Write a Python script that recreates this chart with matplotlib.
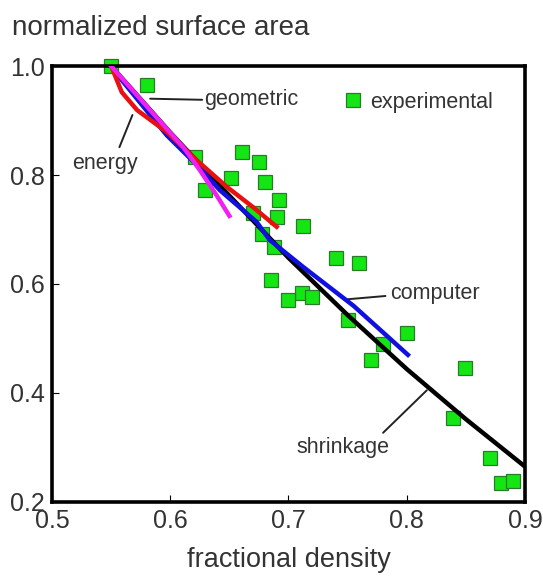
import matplotlib.pyplot as plt

plt.rcParams["font.family"] = ["Liberation Sans", "DejaVu Sans"]

# experimental points (fractional density, normalized surface area)
exp_density = [0.550, 0.580, 0.621, 0.661, 0.675, 0.651, 0.629, 0.680, 0.692,
               0.670, 0.690, 0.712, 0.678, 0.688, 0.740, 0.760, 0.685, 0.711,
               0.700, 0.720, 0.750, 0.800, 0.780, 0.770, 0.849, 0.839, 0.870,
               0.880, 0.890]
exp_area = [1.000, 0.965, 0.833, 0.842, 0.824, 0.794, 0.772, 0.787, 0.754,
            0.730, 0.723, 0.706, 0.692, 0.668, 0.648, 0.639, 0.607, 0.583,
            0.571, 0.576, 0.534, 0.510, 0.490, 0.461, 0.446, 0.354, 0.281,
            0.235, 0.239]

# model curves
shrinkage_density = [0.55, 0.60, 0.65, 0.70, 0.75, 0.80, 0.85, 0.90]
shrinkage_area = [1.0, 0.878, 0.762, 0.648, 0.543, 0.444, 0.352, 0.265]

computer_density = [0.553, 0.597, 0.625, 0.642, 0.673, 0.684, 0.712, 0.755, 0.801]
computer_area = [0.99, 0.873, 0.813, 0.772, 0.714, 0.681, 0.632, 0.560, 0.470]

energy_density = [0.55, 0.559, 0.572, 0.597, 0.625, 0.648, 0.670, 0.690]
energy_area = [1.0, 0.952, 0.919, 0.879, 0.822, 0.778, 0.741, 0.705]

geometric_density = [0.55, 0.583, 0.611, 0.625, 0.640, 0.650]
geometric_area = [1.0, 0.919, 0.851, 0.809, 0.760, 0.725]

x_ticks = [0.5, 0.6, 0.7, 0.8, 0.9]
y_ticks = [0.2, 0.4, 0.6, 0.8, 1.0]

fig = plt.figure(figsize=(5.43, 5.79), dpi=100)
ax = fig.add_axes([0.0958, 0.133, 0.871, 0.753])

ax.plot(exp_density, exp_area, linestyle="none", marker="s", markersize=9.5,
        markerfacecolor="#14e614", markeredgecolor="#2b7a2b",
        markeredgewidth=0.9, label="experimental", zorder=2, clip_on=False)
ax.plot(shrinkage_density, shrinkage_area, color="black", linewidth=3.2, zorder=3)
ax.plot(computer_density, computer_area, color="#1010e0", linewidth=3.2, zorder=4)
ax.plot(energy_density, energy_area, color="#e81010", linewidth=3.2, zorder=5)
ax.plot(geometric_density, geometric_area, color="#f020f0", linewidth=3.2, zorder=6)

# curve labels with leader lines
lbl = dict(fontsize=15.5, color="#333333", va="center")
line = dict(arrowstyle="-", color="#222222", lw=1.4, shrinkA=0, shrinkB=0)
ax.text(0.629, 0.939, "geometric", ha="left", **lbl)
ax.annotate("", xy=(0.583, 0.940), xytext=(0.627, 0.938), arrowprops=line)
ax.text(0.545, 0.822, "energy", ha="center", **lbl)
ax.annotate("", xy=(0.568, 0.910), xytext=(0.557, 0.851), arrowprops=line)
ax.text(0.786, 0.582, "computer", ha="left", **lbl)
ax.annotate("", xy=(0.750, 0.572), xytext=(0.782, 0.578), arrowprops=line)
ax.text(0.746, 0.300, "shrinkage", ha="center", **lbl)
ax.annotate("", xy=(0.817, 0.405), xytext=(0.780, 0.327), arrowprops=line)

ax.legend(loc="center left", bbox_to_anchor=(0.595, 0.917), frameon=False,
          handlelength=1.0, handletextpad=0.3, fontsize=15.5,
          labelcolor="#333333", borderaxespad=0)

ax.set_xlim(0.5, 0.9)
ax.set_ylim(0.2, 1.0)
ax.set_xticks(x_ticks)
ax.set_yticks(y_ticks)
ax.set_xticklabels([f"{v:.1f}" for v in x_ticks])
ax.set_yticklabels([f"{v:.1f}" for v in y_ticks])
ax.tick_params(direction="in", length=5, width=0.8, labelsize=18,
               labelcolor="#333333", top=False, right=False)
ax.tick_params(axis="x", pad=5)
ax.tick_params(axis="y", pad=5)
for s in ax.spines.values():
    s.set_linewidth(2.6)

ax.set_xlabel("fractional density", fontsize=19.5, color="#333333", labelpad=10)
fig.text(0.022, 0.94, "normalized surface area", fontsize=20, color="#333333",
         ha="left", va="baseline")

fig.savefig("out.png", dpi=100)
